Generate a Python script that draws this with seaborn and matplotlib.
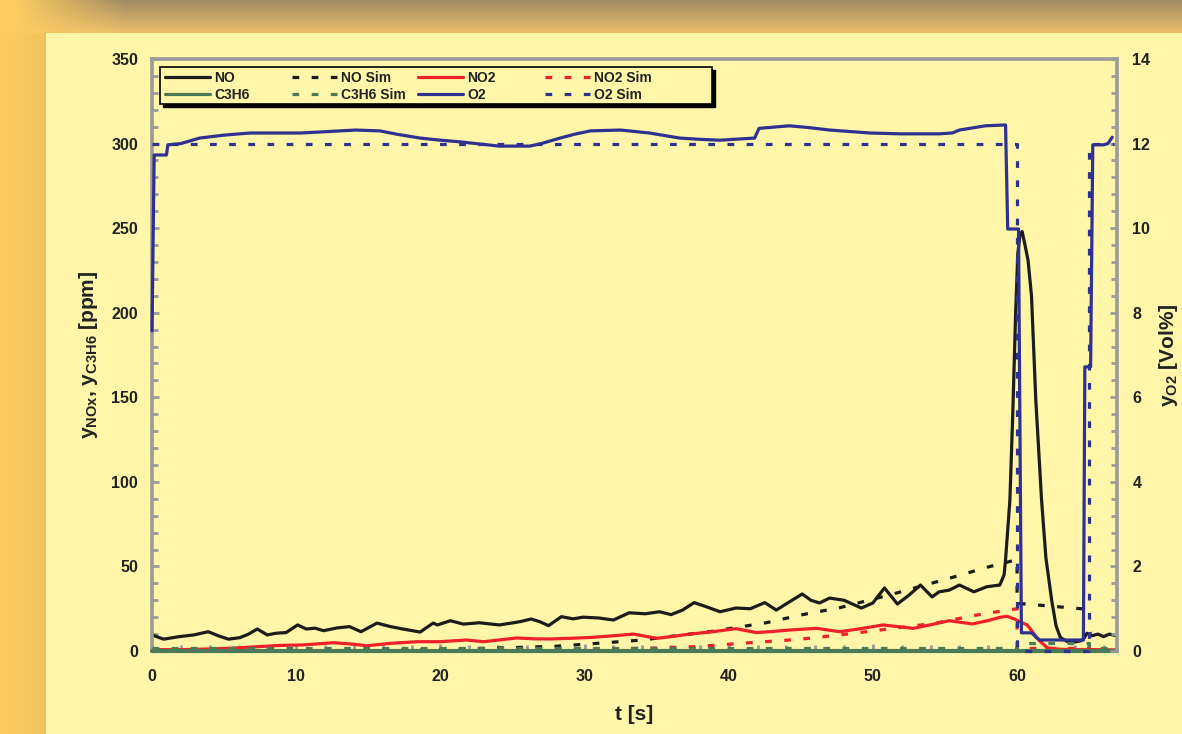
import numpy as np
import pandas as pd
import seaborn as sns
import matplotlib
matplotlib.use("Agg")
import matplotlib.pyplot as plt
from matplotlib.lines import Line2D
from matplotlib.legend import Legend
from matplotlib.patches import Rectangle
from matplotlib.transforms import offset_copy
from matplotlib.ticker import MultipleLocator

# ---------------- measured and simulated signals ----------------
t_no = [0, 0.8, 1.9, 2.9, 3.9, 4.6, 5.3, 6.1, 6.7, 7.3, 8.0, 8.6, 9.3, 10.1, 10.7,
        11.3, 11.9, 12.8, 13.7, 14.5, 15.6, 16.5, 17.4, 18.6, 19.5, 19.8, 20.7,
        21.6, 22.7, 24.1, 25.5, 26.3, 26.9, 27.5, 28.4, 29.2, 29.9, 31.0, 32.0,
        33.1, 34.2, 35.2, 36.0, 36.8, 37.6, 38.5, 39.4, 40.5, 41.5, 42.5, 43.3,
        44.2, 45.1, 45.7, 46.3, 47.0, 48.0, 49.2, 50.0, 50.8, 51.7, 52.5, 53.3,
        54.1, 54.6, 55.3, 56.0, 57.0, 57.9, 58.8, 59.1, 59.2, 59.5, 59.7, 59.9,
        60.05, 60.2, 60.35, 60.55, 60.76, 61.0, 61.3, 61.7, 62.0, 62.4, 62.7,
        63.0, 63.5, 64.0, 64.4, 64.6, 64.85, 65.2, 65.6, 66.0, 66.4, 66.9]
no = [9.5, 7.0, 8.5, 9.5, 11.4, 9.0, 7.0, 7.9, 10.0, 13.0, 9.5, 10.5, 10.9, 15.4, 13.0,
      13.5, 12.0, 13.6, 14.4, 11.4, 16.5, 14.5, 13.0, 11.2, 16.5, 15.4, 17.9,
      15.9, 16.7, 15.4, 17.3, 18.9, 17.3, 15.0, 20.3, 19.0, 20.0, 19.5, 18.3,
      22.6, 22.0, 23.2, 21.5, 24.2, 28.6, 26.0, 23.2, 25.4, 25.0, 28.6, 24.2,
      29.0, 33.7, 30.0, 28.4, 31.3, 30.0, 25.4, 28.4, 37.3, 27.8, 33.0, 39.0,
      32.0, 35.0, 36.0, 39.0, 35.0, 38.0, 39.0, 45.0, 54.0, 89.0, 140.0, 200.0,
      235.0, 246.0, 248.0, 240.0, 231.0, 210.0, 148.0, 89.0, 55.0, 30.0, 15.0,
      8.0, 5.5, 5.3, 6.0, 7.0, 10.5, 9.0, 10.0, 8.5, 10.0, 9.0]

t_no2 = [0, 2, 4, 5.4, 7, 8.9, 10.5, 12.6, 14, 14.9, 16.5, 18.4, 20, 21.8, 23, 25.3,
         26.5, 27.6, 29, 30.4, 32, 33.4, 35, 36, 37.3, 39, 40.5, 41.9, 43, 44.2,
         46.1, 47.7, 49, 50.7, 52.8, 54, 55.3, 56.9, 58, 58.8, 59.3, 59.8, 60.2,
         60.7, 61.1, 61.5, 62.1, 63, 64, 65, 66, 66.9]
no2 = [0.8, 0.8, 1.2, 1.6, 2.4, 3.3, 3.6, 4.9, 4.0, 3.1, 4.5, 5.5, 5.5, 6.5, 5.5, 7.7,
       7.2, 7.1, 7.5, 8.0, 9.0, 10.0, 7.5, 8.5, 10.0, 11.5, 13.2, 10.9, 11.5, 12.4,
       13.4, 11.4, 13.0, 15.4, 13.4, 15.5, 17.9, 16.0, 18.0, 19.9, 20.5, 19.0, 17.3,
       15.4, 11.0, 6.5, 1.8, 1.0, 0.8, 0.8, 0.8, 0.6]

t_no_sim = [0, 15, 20, 25, 28, 31.5, 34, 39, 42.6, 45, 47.7, 51.4, 55.3, 58, 60, 60, 65]
no_sim = [0, 0.3, 1.0, 2.0, 2.8, 4.9, 6.5, 11.8, 16.7, 21.3, 25.6, 33.7, 43.0, 49.7,
          54.0, 28.2, 24.6]

t_no2_sim = [0, 20, 27.6, 33, 35, 37.8, 40.8, 44.9, 47.7, 50.5, 54.2, 57.6, 60, 60, 65,
             65, 65.2]
no2_sim = [0, 0.2, 0.6, 1.5, 1.8, 2.6, 4.5, 6.9, 9.5, 12.4, 16.3, 21.9, 25.0, 1.5, 1.5,
           10.5, 10.5]

t_c3h6 = [0, 66.9]
c3h6 = [0, 0]

t_c3h6_sim = [0, 60, 60, 65, 65, 66.7]
c3h6_sim = [1.5, 1.5, 4.5, 4.5, 1.5, 1.5]

t_o2 = [0, 0.15, 1.0, 1.1, 2, 3.3, 5, 6.8, 10.3, 12, 14.1, 15.8, 17, 18.6, 20, 21.4,
        23, 24.1, 26.2, 27, 28.3, 29.3, 30.4, 32.5, 34.5, 36.6, 38, 39.4, 41.8,
        42.1, 44.2, 45.5, 47, 49.8, 51.9, 54.6, 55.5, 56, 57.8, 59.2, 59.35, 60.1,
        60.3, 61.0, 61.4, 61.6, 64.6, 64.7, 65.1, 65.25, 66.0, 66.3, 66.6]
o2 = [7.57, 11.73, 11.73, 11.97, 12.0, 12.13, 12.2, 12.25, 12.25, 12.28, 12.32, 12.30,
      12.22, 12.13, 12.08, 12.04, 11.98, 11.94, 11.94, 12.0, 12.13, 12.22, 12.30,
      12.32, 12.25, 12.13, 12.1, 12.08, 12.13, 12.36, 12.42, 12.38, 12.32, 12.25,
      12.23, 12.23, 12.25, 12.32, 12.42, 12.44, 9.98, 9.98, 0.43, 0.43, 0.3, 0.26,
      0.26, 6.72, 6.72, 11.97, 11.97, 12.0, 12.15]

t_o2_sim = [0, 60, 60, 65, 65, 66.7]
o2_sim = [12.0, 12.0, 0.0, 0.0, 12.0, 12.0]

# ---------------- styling ----------------
C_NO = "#1c1c1c"
C_NO2 = "#ee2028"
C_C3H6 = "#4a7a58"
C_O2 = "#2e3192"
PANEL = "#fff6aa"
GRAY = "#9a9a9a"
TXT = "#222222"
LW = 2.3
DASH = (2.1, 3.9)

sns.set_style("white")
plt.rcParams["font.family"] = ["Liberation Sans", "DejaVu Sans"]
plt.rcParams["font.weight"] = "bold"
plt.rcParams["axes.labelweight"] = "bold"
plt.rcParams["mathtext.fontset"] = "custom"
plt.rcParams["mathtext.rm"] = "Liberation Sans:bold"
plt.rcParams["mathtext.it"] = "Liberation Sans:bold"
plt.rcParams["mathtext.bf"] = "Liberation Sans:bold"
plt.rcParams["mathtext.default"] = "rm"

W, H = 1182, 734
fig = plt.figure(figsize=(W / 100, H / 100), dpi=100, facecolor=PANEL)

# page background: orange strip on the left, shaded band on top
panel = np.array([255, 246, 170]) / 255.0
orange = np.array([252, 204, 98]) / 255.0
band_top = np.array([160, 140, 100]) / 255.0
band_bot = np.array([236, 190, 108]) / 255.0
img = np.ones((H, W, 3)) * panel
xx = np.arange(W)[None, :, None]
yy = np.arange(H)[:, None, None]
left = orange * (1 - 0.04 * np.arange(46)[:, None] / 45.0)
img[:, :46] = left[None, :, :]
f = yy[:33] / 32.0
band = band_top * (1 - f) + band_bot * f
w = np.clip((xx - 15) / 110.0, 0, 1)
img[:33] = orange * (1 - w) + band * w
fig.figimage(img, xo=0, yo=0, origin="upper", zorder=-10)

ax = fig.add_axes([152 / W, 1 - 651 / H, 965 / W, 592 / H])
ax.set_facecolor(PANEL)
ax2 = ax.twinx()
ax2.patch.set_visible(False)


def draw(axis, t, v, color, dashed=False, lw=LW, z=2):
    sns.lineplot(x=t, y=v, ax=axis, color=color, lw=lw, estimator=None,
                 sort=False, legend=False)
    line = axis.lines[-1]
    if dashed:
        line.set_dashes(DASH)
    line.set_clip_on(False)
    line.set_zorder(z)
    line.set_solid_joinstyle("round")


draw(ax, t_no_sim, no_sim, C_NO, dashed=True)
draw(ax, t_no2_sim, no2_sim, C_NO2, dashed=True)
draw(ax, t_no2, no2, C_NO2)
draw(ax, t_no, no, C_NO)
draw(ax, t_c3h6, c3h6, C_C3H6, lw=3.0, z=3)
draw(ax, t_c3h6_sim, c3h6_sim, C_C3H6, dashed=True, z=3)
draw(ax2, t_o2_sim, o2_sim, C_O2, dashed=True)
draw(ax2, t_o2, o2, C_O2)

# ---------------- axes ----------------
ax.set_xlim(0, 66.93)
ax.set_ylim(0, 350)
ax2.set_ylim(0, 14)
ax.xaxis.set_major_locator(MultipleLocator(10))
ax.xaxis.set_minor_locator(MultipleLocator(2))
ax.yaxis.set_major_locator(MultipleLocator(50))
ax.yaxis.set_minor_locator(MultipleLocator(10))
ax2.yaxis.set_major_locator(MultipleLocator(2))
ax2.yaxis.set_minor_locator(MultipleLocator(0.4))

for a in (ax, ax2):
    for s in a.spines.values():
        s.set_color(GRAY)
        s.set_linewidth(2.6)
for s in ("left", "top", "bottom"):
    ax2.spines[s].set_visible(False)
ax.spines["right"].set_visible(False)

ax.tick_params(which="both", direction="in", color=GRAY, width=2,
               left=True, bottom=True, right=False, top=False,
               labelsize=11.5, labelcolor=TXT)
ax.tick_params(which="major", length=5)
ax.tick_params(which="minor", length=4)
ax.tick_params(axis="y", pad=10)
ax.tick_params(axis="x", pad=13)
ax2.tick_params(which="both", direction="in", color=GRAY, width=2,
                right=True, left=False, labelsize=11.5, labelcolor=TXT, pad=11)
ax2.tick_params(which="major", length=5)
ax2.tick_params(which="minor", length=4)

ax.set_xlabel("t [s]", fontsize=15, labelpad=15, color=TXT)
ax.set_ylabel(r"$y_{NOx}$, $y_{C3H6}$ [ppm]", fontsize=15, labelpad=8, color=TXT)
ax2.set_ylabel(r"$y_{O2}$ [Vol%]", fontsize=15, labelpad=5, color=TXT)

# ---------------- legend ----------------
x0, x1 = (160 - 152) / 965, (712 - 152) / 965
y0, y1 = (651 - 104) / 592, (651 - 67) / 592
shadow = Rectangle((x0, y0), x1 - x0, y1 - y0, facecolor="black", edgecolor="black",
                   transform=offset_copy(ax2.transAxes, fig=fig, x=3, y=-3, units="dots"),
                   zorder=5)
frame = Rectangle((x0, y0), x1 - x0, y1 - y0, facecolor=PANEL, edgecolor="black",
                  lw=1.2, transform=ax2.transAxes, zorder=6)
ax2.add_patch(shadow)
ax2.add_patch(frame)


def h(color, dashed=False):
    if dashed:
        return Line2D([], [], color=color, lw=LW, dashes=DASH)
    return Line2D([], [], color=color, lw=LW)


columns = [
    ([h(C_NO), h(C_C3H6)], ["NO", "C3H6"]),
    ([h(C_NO, True), h(C_C3H6, True)], ["NO Sim", "C3H6 Sim"]),
    ([h(C_NO2), h(C_O2)], ["NO2", "O2"]),
    ([h(C_NO2, True), h(C_O2, True)], ["NO2 Sim", "O2 Sim"]),
]
col_x = [(165 - 152) / 965, (292 - 152) / 965, (418 - 152) / 965, (545 - 152) / 965]
yc = (651 - 86.5) / 592
for (hs, ls), xc in zip(columns, col_x):
    leg = Legend(ax2, hs, ls, loc="center left", bbox_to_anchor=(xc, yc),
                 bbox_transform=ax2.transAxes, frameon=False, borderpad=0,
                 borderaxespad=0, handlelength=3.25, handletextpad=0.3,
                 labelspacing=0.25, fontsize=10)
    leg.set_zorder(7)
    for txt in leg.get_texts():
        txt.set_color(TXT)
    ax2.add_artist(leg)

fig.savefig("out.png", dpi=100, facecolor=fig.get_facecolor())
